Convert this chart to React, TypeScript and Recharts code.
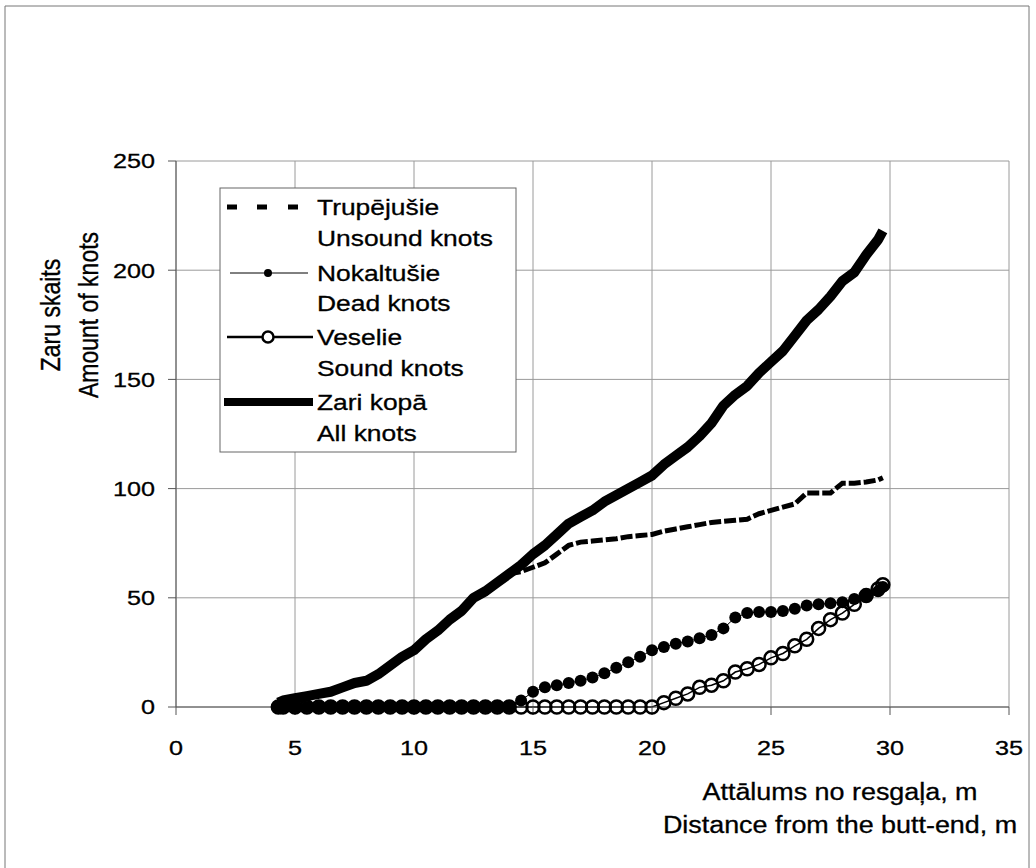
import React from 'react';
import { LineChart, Line, XAxis, YAxis, CartesianGrid } from 'recharts';

// distance from the butt-end, m
const distance = [
  4.3, 4.5, 5, 5.5, 6, 6.5, 7, 7.5, 8, 8.5, 9, 9.5, 10, 10.5, 11, 11.5, 12, 12.5, 13, 13.5, 14, 14.5,
  15, 15.5, 16, 16.5, 17, 17.5, 18, 18.5, 19, 19.5, 20, 20.5, 21, 21.5, 22, 22.5, 23, 23.5, 24, 24.5,
  25, 25.5, 26, 26.5, 27, 27.5, 28, 28.5, 29, 29.5, 29.7,
];

const unsoundKnots = [
  2, 3, 4, 5, 6, 7, 9, 11, 12, 15, 19, 23, 26, 31, 35, 40, 44, 50, 53, 57, 61, 62,
  64, 66, 70, 74, 75.5, 76, 76.5, 77, 78, 78.5, 79, 80.5, 81.5, 82.5, 83.5, 84.5, 85, 85.5, 86, 88.5,
  90, 91.5, 93, 98, 98, 98, 102.5, 102.5, 103, 104, 105,
];

const deadKnots = [
  0, 0, 0, 0, 0, 0, 0, 0, 0, 0, 0, 0, 0, 0, 0, 0, 0, 0, 0, 0, 0, 3,
  7, 9, 10, 11, 12, 13.5, 15.5, 18, 20.5, 23, 26, 27.5, 29, 30, 31.5, 33, 36, 41, 43, 43.5,
  43.5, 44, 45, 46.5, 47, 47.5, 48, 49.5, 51, 53, 55,
];

const soundKnots = [
  0, 0, 0, 0, 0, 0, 0, 0, 0, 0, 0, 0, 0, 0, 0, 0, 0, 0, 0, 0, 0, 0,
  0, 0, 0, 0, 0, 0, 0, 0, 0, 0, 0, 2, 4, 6, 9, 10, 12, 16, 17.5, 19.5,
  22.5, 24.5, 28, 31, 36, 40, 43, 47, 51, 54, 56,
];

const allKnots = [
  2, 3, 4, 5, 6, 7, 9, 11, 12, 15, 19, 23, 26, 31, 35, 40, 44, 50, 53, 57, 61, 65,
  70, 74, 79, 84, 87, 90, 94, 97, 100, 103, 106, 111, 115, 119, 124, 130, 138, 143, 147, 153,
  158, 163, 170, 177, 182, 188, 195, 199, 207, 214, 218,
];

const xTicks = [0, 5, 10, 15, 20, 25, 30, 35];
const yTicks = [0, 50, 100, 150, 200, 250];

const legendLines = [
  'Trupējušie', 'Unsound knots',
  'Nokaltušie', 'Dead knots',
  'Veselie', 'Sound knots',
  'Zari kopā', 'All knots',
];

const yTitle = ['Zaru skaits', 'Amount of knots'];
const xTitle = ['Attālums no resgaļa, m', 'Distance from the butt-end, m'];

const data = distance.map((d, i) => ({
  d,
  unsound: unsoundKnots[i],
  dead: deadKnots[i],
  sound: soundKnots[i],
  all: allKnots[i],
}));

const FONT = '"Liberation Sans", Arial, Helvetica, sans-serif';
const STRETCH = 1.2;
const INK = '#000';

const XTick = (props: any) => {
  const { x, y, payload } = props;
  return (
    <text
      transform={`translate(${x} ${y}) scale(${STRETCH} 1)`}
      textAnchor="middle"
      dy="0.35em"
      fontSize={21}
      fontFamily={FONT}
      fill={INK}
      stroke={INK}
      strokeWidth={0.3}
    >
      {payload.value}
    </text>
  );
};

const YTick = (props: any) => {
  const { x, y, payload } = props;
  return (
    <text
      transform={`translate(${x} ${y}) scale(${STRETCH} 1)`}
      textAnchor="end"
      dy="0.35em"
      fontSize={21}
      fontFamily={FONT}
      fill={INK}
      stroke={INK}
      strokeWidth={0.3}
    >
      {payload.value}
    </text>
  );
};

const rowCenters = [19, 50, 85, 115, 149, 180, 214, 245];

const Overlay = () => (
  <svg width={1036} height={868} style={{ position: 'absolute', left: 0, top: 0, pointerEvents: 'none' }}>
    {/* page frame */}
    <polyline points="5,868 5,6 1029,6 1029,868" fill="none" stroke="#777" strokeWidth={1} />

    {/* y axis title */}
    {yTitle.map((t, i) => (
      <text
        key={t}
        transform={`translate(${i === 0 ? 50 : 88} 315) scale(${STRETCH} 1) rotate(-90)`}
        textAnchor="middle"
        dy="0.35em"
        fontSize={23}
        fontFamily={FONT}
        fill={INK}
        stroke={INK}
        strokeWidth={0.3}
      >
        {t}
      </text>
    ))}

    {/* x axis title */}
    {xTitle.map((t, i) => (
      <text
        key={t}
        transform={`translate(840 ${i === 0 ? 792 : 825}) scale(1.17 1)`}
        textAnchor="middle"
        dy="0.35em"
        fontSize={23}
        fontFamily={FONT}
        fill={INK}
        stroke={INK}
        strokeWidth={0.3}
      >
        {t}
      </text>
    ))}

    {/* legend */}
    <g transform="translate(220 188)">
      <rect x={0} y={0} width={296} height={264} fill="#fff" stroke="#666" strokeWidth={1} />
      <g fill="#000">
        <rect x={7} y={rowCenters[0] - 2.5} width={10} height={5} />
        <rect x={37} y={rowCenters[0] - 2.5} width={10} height={5} />
        <rect x={68} y={rowCenters[0] - 2.5} width={10} height={5} />
      </g>
      <line x1={10} x2={88} y1={rowCenters[2]} y2={rowCenters[2]} stroke="#000" strokeWidth={1} />
      <circle cx={48} cy={rowCenters[2]} r={4} fill="#000" />
      <line x1={7} x2={93} y1={rowCenters[4]} y2={rowCenters[4]} stroke="#000" strokeWidth={2.5} />
      <circle cx={48} cy={rowCenters[4]} r={5.5} fill="#fff" stroke="#000" strokeWidth={2.5} />
      <rect x={4} y={rowCenters[6] - 4} width={89} height={8} fill="#000" />
      {legendLines.map((t, i) => (
        <text
          key={t}
          transform={`translate(97 ${rowCenters[i]}) scale(${STRETCH} 1)`}
          dy="0.35em"
          fontSize={22}
          fontFamily={FONT}
          fill={INK}
          stroke={INK}
          strokeWidth={0.3}
        >
          {t}
        </text>
      ))}
    </g>
  </svg>
);

export default function App() {
  return (
    <div style={{ position: 'absolute', left: 0, top: 0, width: 1036, height: 868, background: '#fff', overflow: 'hidden' }}>
      <LineChart width={1036} height={868} data={data} margin={{ top: 161, right: 27, bottom: 101, left: 116 }}>
        <CartesianGrid stroke="#9a9a9a" strokeWidth={1} />
        <XAxis
          type="number"
          dataKey="d"
          domain={[0, 35]}
          ticks={xTicks}
          interval={0}
          height={60}
          tickSize={8}
          tickMargin={33}
          stroke="#555"
          tick={XTick}
        />
        <YAxis
          type="number"
          domain={[0, 250]}
          ticks={yTicks}
          interval={0}
          width={60}
          tickSize={8}
          tickMargin={13}
          stroke="#555"
          tick={YTick}
        />
        <Line
          dataKey="sound"
          type="linear"
          stroke="#000"
          strokeWidth={1.5}
          dot={{ r: 6.5, fill: 'none', stroke: '#000', strokeWidth: 2.5 }}
          isAnimationActive={false}
        />
        <Line
          dataKey="dead"
          type="linear"
          stroke="#000"
          strokeWidth={1}
          dot={{ r: 6, fill: '#000', stroke: '#000', strokeWidth: 0 }}
          isAnimationActive={false}
        />
        <Line
          dataKey="unsound"
          type="linear"
          stroke="#000"
          strokeWidth={5}
          strokeDasharray="12 3"
          dot={false}
          isAnimationActive={false}
        />
        <Line
          dataKey="all"
          type="linear"
          stroke="#000"
          strokeWidth={10}
          strokeLinejoin="round"
          dot={false}
          isAnimationActive={false}
        />
      </LineChart>
      <Overlay />
    </div>
  );
}
